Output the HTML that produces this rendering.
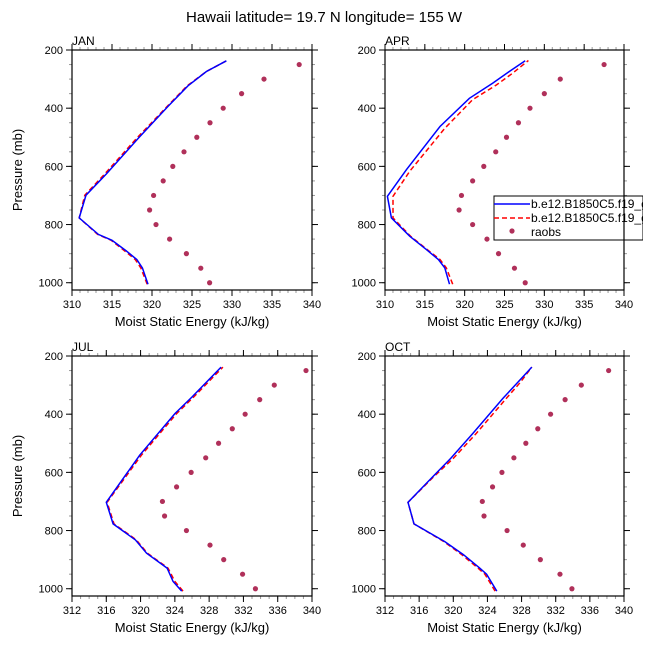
<!DOCTYPE html>
<html><head><meta charset="utf-8"><style>
body{margin:0;background:#fff;}
svg{display:block;font-family:"Liberation Sans",sans-serif;}
</style></head><body>
<svg id="chart" width="648" height="648" viewBox="0 0 648 648" xmlns="http://www.w3.org/2000/svg">
<text x="324" y="22" text-anchor="middle" font-size="15">Hawaii  latitude= 19.7 N longitude= 155 W</text>
</svg>
<script>
const raobsP=[250,300,350,400,450,500,550,600,650,700,750,800,850,900,950,1000];
const janBlueX=[319.5,318.8,318.1,316.8,315.0,313.3,310.9,311.75,314.3,318.3,322.0,324.5,326.8,329.3];
const janBlueP=[1005,949,920,891,854,834,777,699,626,503,394,323,274,237];
const janRedX=[319.4,318.6,317.9,316.6,314.9,313.2,310.9,311.6,314.1,318.1,321.9,324.4,326.8,329.3];
const janRedP=janBlueP;
const janRaobs=[338.4,334.0,331.2,328.9,327.25,325.6,324.0,322.6,321.4,320.2,319.7,320.5,322.2,324.3,326.1,327.2];
const aprBlueX=[318.1,317.5,316.7,315.2,313.1,310.8,310.3,312.7,316.9,320.6,323.5,325.6,327.6];
const aprBlueP=[1005,949,920,886,840,777,703,611,463,366,314,274,237];
const aprRedX=[318.5,317.7,316.9,315.3,313.2,311.0,311.0,313.1,317.5,321.0,324.0,326.0,328.0];
const aprRedP=[1005,949,920,886,840,777,703,617,469,371,320,280,236];
const aprRaobs=[337.5,332.0,330.0,328.2,326.75,325.25,323.9,322.4,321.0,319.6,319.3,321.0,322.8,324.25,326.25,327.6];
const julBlueX=[324.8,323.8,323.1,320.7,319.4,316.8,316.0,319.9,324.0,326.0,329.4];
const julBlueP=[1008,975,929,878,832,777,703,541,398,341,238];
const julRedX=[324.95,324.0,323.2,320.8,319.5,316.9,316.1,320.1,324.2,326.2,329.6];
const julRedP=julBlueP;
const julRaobs=[339.3,335.6,333.9,332.2,330.7,329.1,327.6,325.9,324.2,322.55,322.8,325.35,328.1,329.7,331.9,333.4];
const octBlueX=[325.1,323.9,323.1,321.2,319.0,315.4,314.7,317.5,319.7,322.3,325.8,327.6,329.2];
const octBlueP=[1008,950,929,883,838,777,703,618,552,466,346,289,238];
const octRedX=[324.9,323.7,322.9,321.0,318.9,315.4,314.7,317.6,320.0,322.7,326.2,327.9,329.2];
const octRedP=octBlueP;
const octRaobs=[338.2,335.0,333.1,331.4,329.9,328.5,327.1,325.7,324.6,323.4,323.6,326.3,328.2,330.2,332.5,333.9];
const topXTicks=[310,315,320,325,330,335,340];
const botXTicks=[312,316,320,324,328,332,336,340];
const yTicks=[200,400,600,800,1000];

const NS="http://www.w3.org/2000/svg";
const svg=document.getElementById('chart');
function mk(tag,attrs,parent){const e=document.createElementNS(NS,tag);for(const k in attrs)e.setAttribute(k,attrs[k]);(parent||svg).appendChild(e);return e;}

function panel(name,x0,x1,y0,y1,xmin,xmax,xticks,blueX,blueP,redX,redP,raobs,showYLabel){
  const g=mk('g',{});
  
  
  const pmin=200,pmax=1025;
  const sx=v=>x0+(v-xmin)/(xmax-xmin)*(x1-x0);
  const sy=p=>y0+(p-pmin)/(pmax-pmin)*(y1-y0);
  // minor ticks
  for(let v=xmin;v<=xmax;v+=1){const x=sx(v);
    mk('line',{x1:x,x2:x,y1:y1,y2:y1+3,stroke:'#999','stroke-width':1},g);
    mk('line',{x1:x,x2:x,y1:y0,y2:y0-3,stroke:'#999','stroke-width':1},g);}
  for(let p=250;p<=1000;p+=50){const y=sy(p);
    mk('line',{x1:x0,x2:x0-3,y1:y,y2:y,stroke:'#999','stroke-width':1},g);
    mk('line',{x1:x1,x2:x1+3,y1:y,y2:y,stroke:'#999','stroke-width':1},g);}
  xticks.forEach(v=>{const x=sx(v);
    mk('line',{x1:x,x2:x,y1:y1,y2:y1+6,stroke:'#000','stroke-width':1},g);
    mk('line',{x1:x,x2:x,y1:y0,y2:y0-6,stroke:'#000','stroke-width':1},g);
    const t=mk('text',{x:x,y:y1+18,'text-anchor':'middle','font-size':11},g);t.textContent=v;
    
    });
  yTicks.forEach(p=>{const y=sy(p);
    mk('line',{x1:x0,x2:x0-6,y1:y,y2:y,stroke:'#000','stroke-width':1},g);
    mk('line',{x1:x1,x2:x1+6,y1:y,y2:y,stroke:'#000','stroke-width':1},g);
    const t=mk('text',{x:x0-9,y:y+4,'text-anchor':'end','font-size':11},g);t.textContent=p;
    
    });
  const ln=(xs,ps,col,dash,nm)=>{const pts=xs.map((v,i)=>sx(v).toFixed(1)+','+sy(ps[i]).toFixed(1)).join(' ');
    const pl=mk('polyline',{points:pts,fill:'none',stroke:col,'stroke-width':1.5,'stroke-dasharray':dash},g);
    
    };
  ln(redX,redP,'#ff0000','5,3',name+'-red-line');
  ln(blueX,blueP,'#0000ff','none',name+'-blue-line');
  raobs.forEach((v,i)=>{const c=mk('circle',{cx:sx(v),cy:sy(raobsP[i]),r:2.6,fill:'#b0305a'},g);
    
    });
  mk('rect',{x:x0,y:y0,width:x1-x0,height:y1-y0,fill:'none',stroke:'#000','stroke-width':1.2},g);
  const tt=mk('text',{x:x0,y:y0-5,'font-size':12},g);tt.textContent=name.toUpperCase();
  
  
  const xl=mk('text',{x:(x0+x1)/2,y:y1+36,'text-anchor':'middle','font-size':13},g);xl.textContent='Moist Static Energy (kJ/kg)';
  
  
  if(showYLabel){const yl=mk('text',{x:0,y:0,'text-anchor':'middle','font-size':13,transform:`translate(${x0-50},${(y0+y1)/2}) rotate(-90)`},g);yl.textContent='Pressure (mb)';
    
    }
}
panel('jan',72,312,50,290,310,340,topXTicks,janBlueX,janBlueP,janRedX,janRedP,janRaobs,true);
panel('apr',385,624,50,290,310,340,topXTicks,aprBlueX,aprBlueP,aprRedX,aprRedP,aprRaobs,false);
panel('jul',72,312,356,596,312,340,botXTicks,julBlueX,julBlueP,julRedX,julRedP,julRaobs,true);
panel('oct',385,624,356,596,312,340,botXTicks,octBlueX,octBlueP,octRedX,octRedP,octRaobs,false);

// legend
const lg=mk('g',{});


mk('rect',{x:494,y:196,width:149,height:44,fill:'#fff',stroke:'#000','stroke-width':1},lg);
mk('line',{x1:494,x2:530,y1:204,y2:204,stroke:'#0000ff','stroke-width':1.5},lg);
mk('line',{x1:494,x2:530,y1:218,y2:218,stroke:'#ff0000','stroke-width':1.5,'stroke-dasharray':'5,3'},lg);
mk('circle',{cx:512,cy:231,r:2.6,fill:'#b0305a'},lg);
[['b.e12.B1850C5.f19_g16',208],['b.e12.B1850C5.f19_g16',222],['raobs',236]].forEach(([s,y])=>{const t=mk('text',{x:531,y:y,'font-size':12},lg);t.textContent=s;
  
  });
mk('rect',{x:643,y:190,width:5,height:60,fill:'#fff'},lg);
mk('line',{x1:624,x2:624,y1:196,y2:240,stroke:'#000','stroke-width':1.2},lg);
</script>
</body></html>
